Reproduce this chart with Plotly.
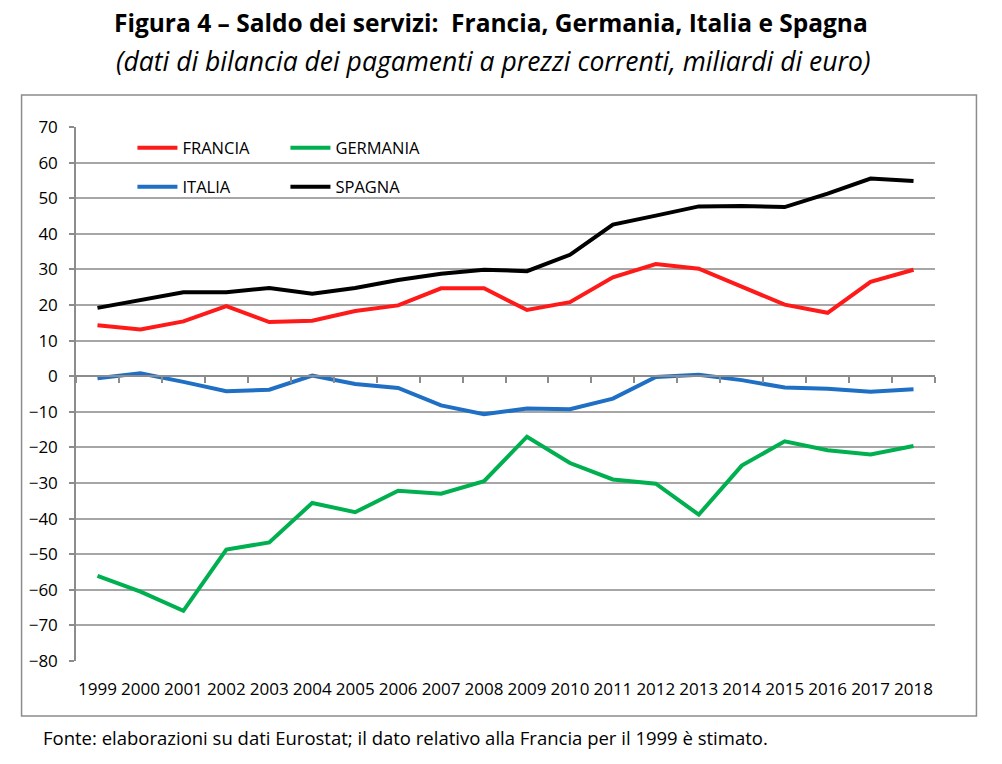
import plotly.graph_objects as go

years = [str(y) for y in range(1999, 2019)]
francia = [14.3, 13.1, 15.4, 19.7, 15.2, 15.6, 18.3, 19.9, 24.7, 24.7,
           18.6, 20.8, 27.8, 31.5, 30.2, 25.2, 20.1, 17.8, 26.5, 29.9]
germania = [-56.1, -60.5, -65.9, -48.7, -46.7, -35.6, -38.2, -32.2, -33.0, -29.5,
            -17.0, -24.4, -29.0, -30.2, -38.9, -25.1, -18.3, -20.8, -22.0, -19.6]
italia = [-0.6, 0.8, -1.6, -4.2, -3.8, 0.2, -2.2, -3.3, -8.2, -10.7,
          -9.1, -9.3, -6.3, -0.2, 0.4, -1.1, -3.2, -3.5, -4.4, -3.7]
spagna = [19.2, 21.5, 23.6, 23.6, 24.8, 23.2, 24.8, 27.0, 28.8, 29.9,
          29.5, 34.1, 42.6, 45.1, 47.7, 47.8, 47.5, 51.3, 55.5, 54.8]
y_ticks = list(range(-80, 71, 10))

FONT = "Open Sans"
W, H = 1002, 764
L, R, T, B = 75.5, 66.5, 127, 103
pw, ph = W - L - R, H - T - B

def px(x):
    return (x - L) / pw

def py(y):
    return (H - B - y) / ph

fig = go.Figure()
series = [("FRANCIA", francia, "#FF1A1A", "legend"),
          ("GERMANIA", germania, "#00B050", "legend"),
          ("ITALIA", italia, "#1F6FC4", "legend2"),
          ("SPAGNA", spagna, "#000000", "legend2")]
for name, vals, col, lg in series:
    fig.add_trace(go.Scatter(x=years, y=vals, mode="lines", name=name,
                             line=dict(color=col, width=4), legend=lg))
# helper trace for the bottom label axis
fig.add_trace(go.Scatter(x=years, y=[None] * len(years), xaxis="x2",
                         showlegend=False, hoverinfo="skip"))

grid = "#A6A6A6"
axc = "#8C8C8C"
fig.update_layout(
    width=W, height=H,
    margin=dict(l=L, r=R, t=T, b=B),
    paper_bgcolor="white", plot_bgcolor="white",
    font=dict(family=FONT, size=15, color="#000000"),
    xaxis=dict(type="category", range=[-0.5, 19.5], anchor="free",
               position=80 / 150, showline=True, linecolor=axc, linewidth=1.5,
               ticks="outside", tickson="boundaries", ticklen=6,
               tickcolor=axc, tickwidth=1.5, showticklabels=False, showgrid=False,
               zeroline=False),
    xaxis2=dict(type="category", range=[-0.5, 19.5], overlaying="x",
                anchor="y", side="bottom", showline=False, showgrid=False,
                ticks="", ticklabelstandoff=16,
                tickfont=dict(family=FONT, size=17, color="#000000")),
    yaxis=dict(range=[-80, 70], tickvals=y_ticks, showline=True,
               linecolor=axc, linewidth=1.5, ticks="outside", ticklen=5,
               tickcolor=axc, tickwidth=1.5, showgrid=True, gridcolor=grid,
               gridwidth=1.5, zeroline=False, ticklabelstandoff=8,
               tickfont=dict(family=FONT, size=17, color="#000000")),
    legend=dict(orientation="h", x=px(132), y=py(148), yanchor="middle",
                xanchor="left", entrywidth=98, entrywidthmode="pixels",
                bgcolor="rgba(0,0,0,0)", font=dict(family=FONT, size=16.5),
                itemwidth=40, tracegroupgap=0),
    legend2=dict(orientation="h", x=px(132), y=py(187), yanchor="middle",
                 xanchor="left", entrywidth=98, entrywidthmode="pixels",
                 bgcolor="rgba(0,0,0,0)", font=dict(family=FONT, size=16.5),
                 itemwidth=40, tracegroupgap=0),
    showlegend=True,
)

# outer frame around the chart
fig.add_shape(type="rect", xref="paper", yref="paper",
              x0=px(21), x1=px(977), y0=py(716), y1=py(95),
              line=dict(color="#8C8C8C", width=1.5), fillcolor="rgba(0,0,0,0)",
              layer="below")

fig.add_annotation(text="<b>Figura 4 – Saldo dei servizi:  Francia, Germania, Italia e Spagna</b>",
                   xref="paper", yref="paper", x=px(491), y=py(22),
                   xanchor="center", yanchor="middle", showarrow=False,
                   font=dict(family=FONT, size=24.5, color="#000000"))
fig.add_annotation(text="<i>(dati di bilancia dei pagamenti a prezzi correnti, miliardi di euro)</i>",
                   xref="paper", yref="paper", x=px(493), y=py(61),
                   xanchor="center", yanchor="middle", showarrow=False,
                   font=dict(family=FONT, size=26.5, color="#000000"))
fig.add_annotation(text="Fonte: elaborazioni su dati Eurostat; il dato relativo alla Francia per il 1999 è stimato.",
                   xref="paper", yref="paper", x=px(40), y=py(737),
                   xanchor="left", yanchor="middle", showarrow=False,
                   font=dict(family=FONT, size=18.5, color="#000000"))

fig.write_html("out.html")
